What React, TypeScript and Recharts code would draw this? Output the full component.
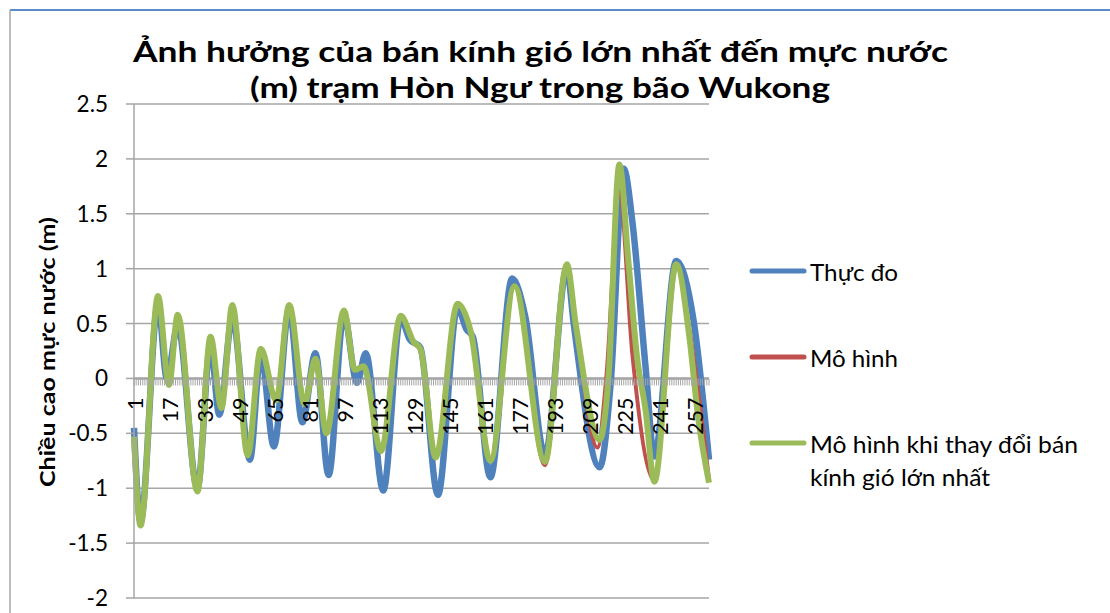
import React from "react";
import { LineChart, Line, XAxis, YAxis, CartesianGrid, ReferenceLine } from "recharts";

const W = 1110;
const H = 613;
const FONT = "Lato, 'Noto Sans', sans-serif";

// plot box (matches the Excel original)
const PLOT_LEFT = 134;
const PLOT_TOP = 104;
const PLOT_RIGHT = 709;
const PLOT_BOTTOM = 598;
const Y_MIN = -2;
const Y_MAX = 2.5;
const ZERO_Y = PLOT_TOP + ((PLOT_BOTTOM - PLOT_TOP) * Y_MAX) / (Y_MAX - Y_MIN);

const yTicks = [-2, -1.5, -1, -0.5, 0, 0.5, 1, 1.5, 2, 2.5];
const lastStep = 264;
const steps = Array.from({ length: lastStep }, (_, k) => k + 1);

// Thực đo (observed)
const obsAt = [1, 4, 12, 16, 21, 30, 36, 40, 46, 54, 59, 65, 72, 78, 84, 90, 97, 103, 107, 115, 123, 127, 132, 140, 149, 153, 156, 164, 174, 180, 189, 199, 202, 214, 219, 225, 229, 235, 239, 249, 257, 264];
const obsVal = [-0.45, -1.3, 0.68, 0.0, 0.48, -1.0, 0.3, -0.33, 0.55, -0.74, 0.22, -0.62, 0.63, -0.4, 0.23, -0.88, 0.58, -0.04, 0.23, -1.02, 0.55, 0.36, 0.28, -1.06, 0.65, 0.45, 0.38, -0.9, 0.91, 0.56, -0.7, 1.0, 0.52, -0.81, -0.05, 1.91, 1.42, 0.1, -0.71, 1.07, 0.52, -0.74];

// Mô hình (model)
const modAt = [1, 4, 12, 17, 21, 30, 36, 41, 46, 53, 59, 66, 72, 79, 84, 89, 97, 102, 106, 114, 123, 129, 132, 139, 149, 155, 164, 175, 189, 199, 203, 213, 217, 223, 229, 239, 249, 255, 264];
const modVal = [-0.55, -1.34, 0.75, -0.06, 0.58, -1.03, 0.38, -0.27, 0.67, -0.7, 0.27, -0.2, 0.67, -0.23, 0.18, -0.5, 0.62, 0.08, 0.11, -0.66, 0.57, 0.33, 0.27, -0.72, 0.68, 0.43, -0.75, 0.84, -0.79, 1.04, 0.5, -0.63, 0.0, 1.69, 0.21, -0.93, 1.04, 0.45, -0.92];

// Mô hình khi thay đổi bán kính gió lớn nhất
const altAt = [1, 4, 12, 17, 21, 30, 36, 41, 46, 53, 59, 66, 72, 79, 84, 89, 97, 102, 106, 114, 123, 129, 132, 139, 149, 155, 164, 175, 189, 199, 203, 214, 218, 223, 227, 231, 235, 239, 249, 255, 259, 264];
const altVal = [-0.53, -1.34, 0.75, -0.06, 0.58, -1.03, 0.38, -0.27, 0.67, -0.7, 0.27, -0.2, 0.67, -0.23, 0.18, -0.5, 0.62, 0.08, 0.11, -0.66, 0.57, 0.33, 0.27, -0.72, 0.68, 0.43, -0.75, 0.84, -0.76, 1.04, 0.5, -0.56, 0.0, 1.95, 1.1, 0.21, -0.29, -0.94, 1.04, 0.38, -0.35, -0.95];

const toRows = (at: number[], vals: number[]) => at.map((i, k) => ({ i, v: vals[k] }));

const series = [
  { name: "Thực đo", color: "#4F81BD", width: 6.5, data: toRows(obsAt, obsVal) },
  { name: "Mô hình", color: "#C0504D", width: 4, data: toRows(modAt, modVal) },
  { name: "Mô hình khi thay đổi bán kính gió lớn nhất", color: "#9BBB59", width: 6, data: toRows(altAt, altVal) },
];

const legendLines = [
  { color: "#4F81BD", y: 271, text: [["Thực đo", 88]] },
  { color: "#C0504D", y: 357, text: [["Mô hình", 88]] },
  { color: "#9BBB59", y: 443, text: [["Mô hình khi thay đổi bán", 268], ["kính gió lớn nhất", 180]] },
];

function CatTick(props: any) {
  const { x, payload } = props;
  const v = payload.value as number;
  return (
    <g>
      <line x1={x} x2={x} y1={ZERO_Y} y2={ZERO_Y + 7} stroke="#a6a6a6" strokeWidth={1} />
      {(v - 1) % 16 === 0 && (
        <text
          transform={`translate(${x + 1},${ZERO_Y + 19}) rotate(-90)`}
          textAnchor="end"
          dominantBaseline="central"
          fontFamily={FONT}
          fontSize={21.5}
          fill="#000"
        >
          {v}
        </text>
      )}
    </g>
  );
}

export default function App() {
  return (
    <div style={{ position: "absolute", left: 0, top: 0, width: W, height: H, background: "#fff" }}>
      <LineChart
        width={W}
        height={H}
        margin={{ top: PLOT_TOP, right: W - PLOT_RIGHT, bottom: 0, left: PLOT_LEFT - 60 }}
      >
        <CartesianGrid vertical={false} stroke="#a6a6a6" strokeWidth={1.5} />
        <XAxis
          type="number"
          dataKey="i"
          domain={[1, lastStep]}
          ticks={steps}
          interval={0}
          height={H - PLOT_BOTTOM}
          axisLine={false}
          tickLine={false}
          tick={<CatTick />}
        />
        <YAxis
          type="number"
          domain={[Y_MIN, Y_MAX]}
          ticks={yTicks}
          width={60}
          tickSize={8}
          tickMargin={18}
          stroke="#a6a6a6"
          axisLine={{ stroke: "#a6a6a6", strokeWidth: 1.5 }}
          tickLine={{ stroke: "#a6a6a6", strokeWidth: 1.5 }}
          tick={{ fill: "#000", fontSize: 22.5, fontFamily: FONT }}
        />
        <ReferenceLine y={0} stroke="#a6a6a6" strokeWidth={2.5} />
        {series.map((s) => (
          <Line
            key={s.name}
            data={s.data}
            dataKey="v"
            name={s.name}
            type="monotone"
            stroke={s.color}
            strokeWidth={s.width}
            strokeLinejoin="round"
            dot={false}
            activeDot={false}
            isAnimationActive={false}
          />
        ))}
      </LineChart>

      <svg width={W} height={H} style={{ position: "absolute", left: 0, top: 0, pointerEvents: "none" }}>
        <line x1={10} y1={10} x2={W} y2={10} stroke="#5b8bc9" strokeWidth={2} />
        <line x1={10} y1={10} x2={10} y2={H} stroke="#a6a6a6" strokeWidth={1.5} />
        <text x={540.5} y={62} textAnchor="middle" fontFamily={FONT} fontWeight="bold" fontSize={28.5} textLength={815} lengthAdjust="spacingAndGlyphs">
          Ảnh hưởng của bán kính gió lớn nhất đến mực nước
        </text>
        <text x={540} y={97.5} textAnchor="middle" fontFamily={FONT} fontWeight="bold" fontSize={28.5} textLength={580} lengthAdjust="spacingAndGlyphs">
          (m) trạm Hòn Ngư trong bão Wukong
        </text>
        <text
          transform="translate(46,352) rotate(-90)"
          textAnchor="middle"
          dominantBaseline="central"
          fontFamily={FONT}
          fontWeight="bold"
          fontSize={21}
          textLength={270}
          lengthAdjust="spacingAndGlyphs"
        >
          Chiều cao mực nước (m)
        </text>
        {legendLines.map((l) => (
          <g key={l.color}>
            <line x1={752} x2={804} y1={l.y} y2={l.y} stroke={l.color} strokeWidth={5} strokeLinecap="round" />
            {l.text.map(([t, len], k) => (
              <text
                key={k}
                x={810}
                y={l.y + k * 33}
                dominantBaseline="central"
                fontFamily={FONT}
                fontSize={24}
                textLength={len as number}
                lengthAdjust="spacingAndGlyphs"
              >
                {t}
              </text>
            ))}
          </g>
        ))}
      </svg>
    </div>
  );
}
